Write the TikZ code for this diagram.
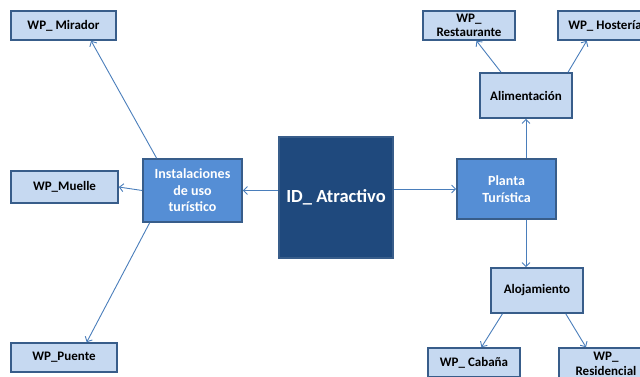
\documentclass[tikz,border=0pt]{standalone}
\usepackage{fontspec}
\setmainfont{Carlito}
\usetikzlibrary{arrows.meta}
\definecolor{lightfill}{HTML}{C6D9F1}
\definecolor{midfill}{HTML}{558ED5}
\definecolor{darkfill}{HTML}{1F497D}
\definecolor{edgeblue}{HTML}{385D8A}
\definecolor{linkblue}{HTML}{4A7EBB}
\begin{document}
\begin{tikzpicture}[x=1pt,y=-1pt,
  box/.style={draw=edgeblue, line width=1.6pt, align=center, inner sep=0pt},
  leaf/.style={box, fill=lightfill, text=black,
    font=\bfseries\fontsize{13}{14.5}\selectfont},
  midbox/.style={box, fill=midfill, text=white,
    font=\bfseries\fontsize{14}{16.5}\selectfont},
  core/.style={box, fill=darkfill, text=white,
    font=\bfseries\fontsize{18.5}{22}\selectfont},
  link/.style={draw=linkblue, line width=0.9pt,
    -{Straight Barb[length=4pt,width=8pt]}}]
\useasboundingbox (0,0) rectangle (640,376);
\clip (0,0) rectangle (640,376);

% centre and branches
\node[core, minimum width=114, minimum height=121] (id) at (336,197.5) {ID\_ Atractivo};
\node[midbox, minimum width=99, minimum height=63] (inst) at (192.5,190.5) {Instalaciones\\de uso\\turístico};
\node[midbox, minimum width=99, minimum height=60] (planta) at (506.5,189) {Planta\\Turística};
\node[leaf, minimum width=92, minimum height=45] (alim) at (526,95.5) {Alimentación};
\node[leaf, minimum width=92, minimum height=45] (aloj) at (537,290.5) {Alojamiento};

% leaves
\node[leaf, minimum width=105, minimum height=29] (mirador) at (63.5,25.5) {WP\_ Mirador};
\node[leaf, minimum width=107, minimum height=32] (muelle) at (64.5,187) {WP\_Muelle};
\node[leaf, minimum width=106, minimum height=29] (puente) at (64,357.5) {WP\_Puente};
\node[leaf, minimum width=92, minimum height=29] (rest) at (469,25.5) {WP\_\\Restaurante};
\node[leaf, minimum width=94, minimum height=29] (host) at (605,25.5) {WP\_ Hostería};
\node[leaf, minimum width=92, minimum height=29] (cab) at (474,362.5) {WP\_ Cabaña};
\node[leaf, minimum width=94, minimum height=32] (resid) at (606,364) {WP\_\\Residencial};

% connectors
\draw[link] (inst.east -| id.west) -- (inst.east);
\draw[link] (planta.west -| id.east) -- (planta.west);
\draw[link] (inst.138) -- (mirador.331);
\draw[link] (inst.west) -- (muelle.east);
\draw[link] (inst.217) -- (puente.34);
\draw[link] (planta.north -| alim.south) -- (alim.south);
\draw[link] (planta.south -| alim.south) -- (aloj.north -| alim.south);
\draw[link] (alim.137) -- (rest.296);
\draw[link] (alim.29) -- (host.220);
\draw[link] (aloj.214) -- (cab.64);
\draw[link] (aloj.321) -- (resid.140);
\end{tikzpicture}
\end{document}
